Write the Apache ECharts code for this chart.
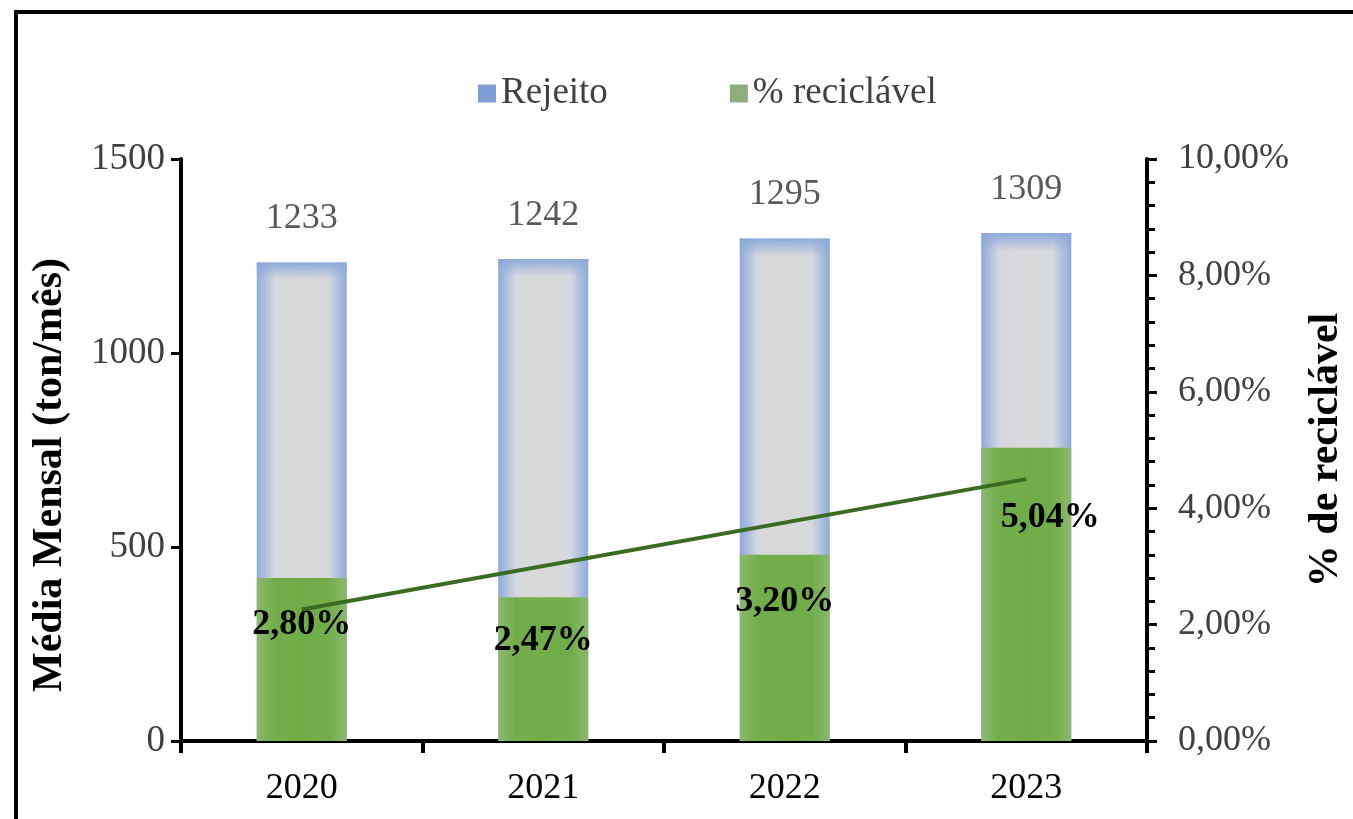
<!DOCTYPE html>
<html>
<head>
<meta charset="utf-8">
<script src="https://cdn.jsdelivr.net/npm/echarts@6/dist/echarts.min.js"></script>
<style>
html, body { margin: 0; padding: 0; background: #fff; }
#chart { width: 1353px; height: 819px; }
</style>
</head>
<body>
<div id="chart"></div>
<script>
const years = ['2020', '2021', '2022', '2023']
const rejeito = [1233, 1242, 1295, 1309]
const reciclavel = [2.80, 2.47, 3.20, 5.04]
// linha de tendência (início e fim)
const tendencia = [2.26, null, null, 4.50]
// deslocamento dos rótulos de % dentro das barras
const pctOffsets = [[0, 24], [0, 20], [0, 24], [24, 47]]

const serif = "'Liberation Serif', 'Times New Roman', serif"
const fmtPct = (v) => v.toFixed(2).replace('.', ',') + '%'

const myChart = echarts.init(document.getElementById('chart'))

myChart.setOption({
  backgroundColor: '#fff',
  animation: false,
  textStyle: { fontFamily: serif },
  graphic: [
    {
      type: 'rect',
      shape: { x: 16, y: 12, width: 1400, height: 900 },
      style: { fill: 'none', stroke: '#000', lineWidth: 4 },
      silent: true
    }
  ],
  legend: {
    top: 70,
    left: 473,
    itemWidth: 18,
    itemHeight: 18,
    itemGap: 122,
    icon: 'rect',
    textStyle: { fontFamily: serif, fontSize: 37, color: '#404040' },
    data: [
      { name: 'Rejeito', itemStyle: { color: '#7f9ed6' } },
      { name: '% reciclável', itemStyle: { color: '#8fac7d' } }
    ]
  },
  grid: {
    left: 181,
    right: 206,
    top: 159,
    bottom: 78,
    outerBoundsMode: 'none'
  },
  xAxis: {
    type: 'category',
    data: years,
    axisLine: { lineStyle: { color: '#000', width: 4 } },
    axisTick: { show: true, length: 12, lineStyle: { color: '#000', width: 4 } },
    axisLabel: { fontFamily: serif, fontSize: 36, color: '#000', margin: 30 }
  },
  yAxis: [
    {
      type: 'value',
      min: 0,
      max: 1500,
      interval: 500,
      name: 'Média Mensal (ton/mês)',
      nameLocation: 'middle',
      nameGap: 110,
      nameRotate: 90,
      nameTextStyle: {
        fontFamily: serif,
        fontSize: 42,
        fontWeight: 'bold',
        color: '#000',
        padding: [0, 50, 0, 0]
      },
      axisLine: { show: true, lineStyle: { color: '#000', width: 4 } },
      axisTick: { show: true, length: 10, lineStyle: { color: '#000', width: 3 } },
      axisLabel: {
        fontFamily: serif,
        fontSize: 37,
        color: '#404040',
        margin: 16,
        formatter: (v) => String(v)
      },
      splitLine: { show: false }
    },
    {
      type: 'value',
      min: 0,
      max: 10,
      interval: 2,
      position: 'right',
      name: '% de reciclável',
      nameLocation: 'middle',
      nameGap: 158,
      nameRotate: 90,
      nameTextStyle: { fontFamily: serif, fontSize: 42, fontWeight: 'bold', color: '#000' },
      axisLine: { show: true, lineStyle: { color: '#000', width: 4 } },
      axisTick: { show: true, length: 10, lineStyle: { color: '#000', width: 3 } },
      minorTick: { show: true, splitNumber: 5, length: 8, lineStyle: { color: '#000', width: 3 } },
      axisLabel: {
        fontFamily: serif,
        fontSize: 36,
        color: '#404040',
        margin: 31,
        formatter: (v) => fmtPct(v)
      },
      splitLine: { show: false }
    }
  ],
  series: [
    {
      name: 'Rejeito',
      type: 'bar',
      yAxisIndex: 0,
      barWidth: 90,
      barGap: '-100%',
      data: rejeito,
      itemStyle: {
        color: new echarts.graphic.LinearGradient(0, 0, 1, 0, [
          { offset: 0, color: '#8eaadb' },
          { offset: 0.2, color: '#d5d8de' },
          { offset: 0.5, color: '#d9d9d9' },
          { offset: 0.8, color: '#d5d8de' },
          { offset: 1, color: '#8eaadb' }
        ])
      },
      label: {
        show: true,
        position: 'top',
        distance: 26,
        fontFamily: serif,
        fontSize: 36,
        color: '#595959'
      }
    },
    {
      // borda superior azulada das barras de rejeito
      name: 'Rejeito',
      type: 'bar',
      yAxisIndex: 0,
      barWidth: 90,
      barGap: '-100%',
      data: rejeito,
      silent: true,
      itemStyle: {
        color: new echarts.graphic.LinearGradient(0, 0, 0, 1, [
          { offset: 0, color: 'rgba(142,170,219,1)' },
          { offset: 0.035, color: 'rgba(142,170,219,0)' },
          { offset: 1, color: 'rgba(142,170,219,0)' }
        ])
      }
    },
    {
      name: '% reciclável',
      type: 'bar',
      yAxisIndex: 1,
      barWidth: 90,
      barGap: '-100%',
      data: reciclavel.map((v, i) => ({
        value: v,
        label: { offset: pctOffsets[i] }
      })),
      itemStyle: {
        color: new echarts.graphic.LinearGradient(0, 0, 1, 0, [
          { offset: 0, color: '#8cb86e' },
          { offset: 0.2, color: '#72ad4a' },
          { offset: 0.5, color: '#70ad47' },
          { offset: 0.8, color: '#72ad4a' },
          { offset: 1, color: '#8cb86e' }
        ])
      },
      label: {
        show: true,
        position: 'insideTop',
        distance: 5,
        fontFamily: serif,
        fontSize: 36,
        fontWeight: 'bold',
        color: '#000',
        formatter: (p) => fmtPct(p.value)
      },
      z: 3
    },
    {
      name: 'Tendência',
      type: 'line',
      yAxisIndex: 1,
      data: tendencia,
      connectNulls: true,
      symbol: 'none',
      lineStyle: { color: '#3b6b22', width: 4 },
      z: 4
    }
  ]
})
</script>
</body>
</html>
